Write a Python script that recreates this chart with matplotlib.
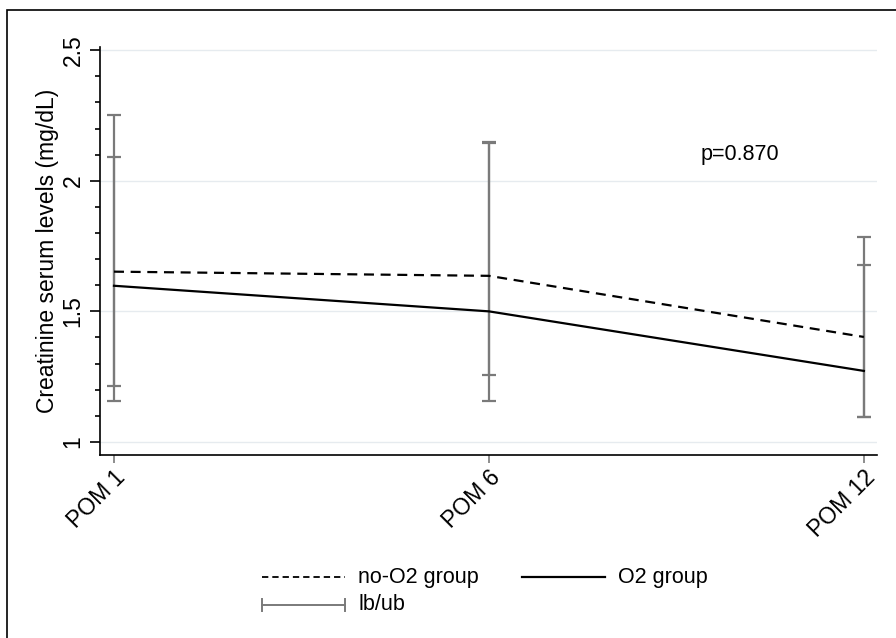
# Creatinine serum levels by time point, no-O2 vs O2 group

import numpy as np
import matplotlib.pyplot as plt
from matplotlib.lines import Line2D
from matplotlib.patches import Rectangle
from matplotlib.ticker import MultipleLocator

plt.rcParams['font.family'] = ['Liberation Sans', 'DejaVu Sans']

# Data
timepoints = ["POM 1", "POM 6", "POM 12"]
no_o2_mean = [1.652, 1.636, 1.402]
o2_mean = [1.598, 1.500, 1.272]
no_o2_lb = [1.155, 1.158, 1.094]
no_o2_ub = [2.250, 2.150, 1.785]
o2_lb = [1.213, 1.258, 1.094]
o2_ub = [2.092, 2.145, 1.678]
p_text = "p=0.870"

x = np.arange(len(timepoints))
bar_color = "#7a7a7a"
fs_axis = 16.5
fs_leg = 15.5

fig = plt.figure(figsize=(8.96, 6.38), dpi=100)
ax = fig.add_axes([0.1116, 0.2868, 0.8672, 0.6395])

# Confidence bounds
for lb, ub in [(no_o2_lb, no_o2_ub), (o2_lb, o2_ub)]:
    mid = (np.array(lb) + np.array(ub)) / 2
    ax.errorbar(x, mid, yerr=[mid - np.array(lb), np.array(ub) - mid],
                fmt="none", ecolor=bar_color, elinewidth=1.6, capsize=5,
                capthick=1.6, zorder=2)

# Group lines
ax.plot(x, no_o2_mean, color="black", lw=1.6, linestyle=(0, (4.5, 3)), zorder=3)
ax.plot(x, o2_mean, color="black", lw=1.6, zorder=3)

ax.set_xlim(-0.0373, 2.035)
ax.set_ylim(0.95, 2.512)
ax.set_xticks(x)
ax.set_xticklabels(timepoints, rotation=45, ha="right", rotation_mode="anchor",
                   fontsize=fs_axis)
ax.set_yticks([1, 1.5, 2, 2.5])
ax.set_yticklabels(["1", "1.5", "2", "2.5"], rotation=90, va="center", fontsize=fs_axis)
ax.yaxis.set_minor_locator(MultipleLocator(0.1))
ax.tick_params(axis="y", which="major", length=7, width=1.2, pad=4)
ax.tick_params(axis="y", which="minor", length=3.6, width=1.2)
ax.tick_params(axis="x", which="major", length=6, width=1.2, color=bar_color, pad=2)
ax.grid(axis="y", which="major", color="#e6ebef", lw=1)
ax.set_axisbelow(True)
for s in ["top", "right"]:
    ax.spines[s].set_visible(False)
for s in ["left", "bottom"]:
    ax.spines[s].set_linewidth(1.2)
ax.set_ylabel("Creatinine serum levels (mg/dL)", fontsize=fs_axis, labelpad=2)

ax.text(1.67, 2.1, p_text, fontsize=fs_leg, ha="center", va="center")

# Legend drawn below the plot
def key_line(x0, x1, y, **kw):
    fig.add_artist(Line2D([x0, x1], [y, y], transform=fig.transFigure, **kw))

y1 = 1 - 577 / 638
y2 = 1 - 605 / 638
key_line(262 / 896, 345 / 896, y1, color="black", lw=1.3, linestyle=(0, (3.5, 2.2)))
fig.text(358 / 896, y1, "no-O2 group", fontsize=fs_leg, va="center")
key_line(522 / 896, 605 / 896, y1, color="black", lw=1.6)
fig.text(618 / 896, y1, "O2 group", fontsize=fs_leg, va="center")
key_line(262 / 896, 345 / 896, y2, color=bar_color, lw=1.4)
for xe in [262 / 896, 345 / 896]:
    fig.add_artist(Line2D([xe, xe], [y2 - 0.009, y2 + 0.009], transform=fig.transFigure,
                          color=bar_color, lw=1.4))
fig.text(358 / 896, y2, "lb/ub", fontsize=fs_leg, va="center")

# Outer frame (only left and top edges fall inside the image)
fig.add_artist(Rectangle((7 / 896, -0.05), 1.0, 1 - 10 / 638 + 0.05,
                         transform=fig.transFigure, fill=False, edgecolor="black", lw=1.2))

plt.savefig("out.png", dpi=100)
